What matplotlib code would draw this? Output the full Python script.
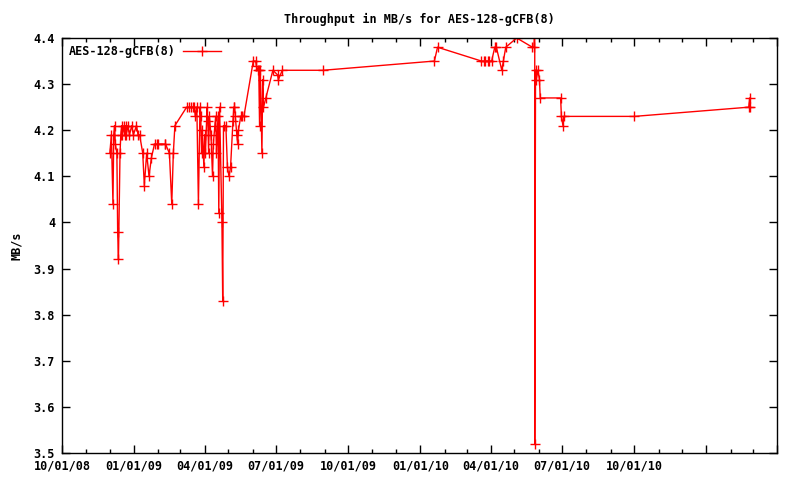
import pandas as pd
import matplotlib
matplotlib.use("Agg")
import matplotlib.pyplot as plt
import matplotlib.dates as mdates

# Data (date, MB/s)
dates = [
    # Dec 2008 - Jan 2009
    "2008-12-01", "2008-12-03", "2008-12-05", "2008-12-06", "2008-12-07", "2008-12-08",
    "2008-12-10", "2008-12-11", "2008-12-12", "2008-12-14", "2008-12-15", "2008-12-16",
    "2008-12-17", "2008-12-19", "2008-12-20", "2008-12-21", "2008-12-22", "2008-12-24",
    "2008-12-26", "2008-12-29", "2008-12-31", "2009-01-04", "2009-01-06", "2009-01-08",
    "2009-01-12", "2009-01-14", "2009-01-17", "2009-01-20", "2009-01-23", "2009-01-27",
    "2009-01-30", "2009-02-01", "2009-02-09", "2009-02-10", "2009-02-15", "2009-02-18",
    "2009-02-20", "2009-02-22",
    # Mar - May 2009
    "2009-03-09", "2009-03-12", "2009-03-14", "2009-03-17", "2009-03-19", "2009-03-20",
    "2009-03-22", "2009-03-24", "2009-03-26", "2009-03-27", "2009-03-28", "2009-03-29",
    "2009-03-31", "2009-04-01", "2009-04-02", "2009-04-04", "2009-04-05", "2009-04-06",
    "2009-04-07", "2009-04-09", "2009-04-11", "2009-04-12", "2009-04-14", "2009-04-15",
    "2009-04-16", "2009-04-18", "2009-04-19", "2009-04-20", "2009-04-23", "2009-04-24",
    "2009-04-25", "2009-04-28", "2009-04-30", "2009-05-02", "2009-05-04", "2009-05-07",
    "2009-05-08", "2009-05-09", "2009-05-10", "2009-05-12", "2009-05-13", "2009-05-14",
    "2009-05-17", "2009-05-18",
    # May - Aug 2009
    "2009-05-21", "2009-06-02", "2009-06-05", "2009-06-06", "2009-06-08", "2009-06-09",
    "2009-06-10", "2009-06-11", "2009-06-13", "2009-06-14", "2009-06-15", "2009-06-18",
    "2009-06-27", "2009-07-03", "2009-07-04", "2009-07-09", "2009-08-30",
    # 2010 - 2011
    "2010-01-19", "2010-01-23", "2010-03-20", "2010-03-23", "2010-03-25", "2010-03-28",
    "2010-03-30", "2010-04-02", "2010-04-06", "2010-04-08", "2010-04-15", "2010-04-17",
    "2010-04-20", "2010-05-04", "2010-05-24", "2010-05-26", "2010-05-27", "2010-05-27",
    "2010-05-28", "2010-05-29", "2010-05-31", "2010-06-02", "2010-06-03", "2010-06-29",
    "2010-06-30", "2010-07-02", "2010-07-03", "2010-10-01", "2011-02-24", "2011-02-25",
    "2011-02-26",
]
throughput = [
    4.15, 4.19, 4.04, 4.19, 4.21, 4.17,
    4.15, 3.98, 3.92, 4.15, 4.19, 4.21,
    4.19, 4.21, 4.19, 4.21, 4.19, 4.21,
    4.19, 4.21, 4.19, 4.21, 4.19, 4.19,
    4.15, 4.08, 4.15, 4.10, 4.14, 4.17,
    4.17, 4.17, 4.17, 4.17, 4.15, 4.04,
    4.15, 4.21,
    4.25, 4.25, 4.25, 4.25, 4.25, 4.23,
    4.25, 4.04, 4.25, 4.23, 4.15, 4.20,
    4.12, 4.19, 4.15, 4.25, 4.22, 4.15,
    4.23, 4.19, 4.10, 4.17, 4.21, 4.23,
    4.15, 4.23, 4.02, 4.25, 4.00, 3.83,
    4.21, 4.21, 4.12, 4.10, 4.12, 4.22,
    4.25, 4.25, 4.23, 4.19, 4.17, 4.20,
    4.23, 4.23,
    4.23, 4.35, 4.35, 4.34, 4.33, 4.33,
    4.21, 4.33, 4.15, 4.31, 4.25, 4.27,
    4.33, 4.32, 4.31, 4.33, 4.33,
    4.35, 4.38, 4.35, 4.35, 4.35, 4.35,
    4.35, 4.35, 4.38, 4.38, 4.33, 4.35,
    4.38, 4.40, 4.38, 4.38, 4.45, 3.52,
    4.33, 4.31, 4.33, 4.31, 4.27, 4.27,
    4.23, 4.21, 4.23, 4.23, 4.25, 4.27,
    4.25,
]

SERIES = "AES-128-gCFB(8)"
TITLE = "Throughput in MB/s for AES-128-gCFB(8)"
Y_TICKS = [3.5, 3.6, 3.7, 3.8, 3.9, 4.0, 4.1, 4.2, 4.3, 4.4]
Y_TICK_LABELS = ["3.5", "3.6", "3.7", "3.8", "3.9", "4", "4.1", "4.2", "4.3", "4.4"]
X_TICKS = ["2008-10-01", "2009-01-01", "2009-04-01", "2009-07-01", "2009-10-01",
           "2010-01-01", "2010-04-01", "2010-07-01", "2010-10-01", "2011-01-01", "2011-04-01"]
X_TICK_LABELS = ["10/01/08", "01/01/09", "04/01/09", "07/01/09", "10/01/09",
                 "01/01/10", "04/01/10", "07/01/10", "10/01/10", "", ""]

FONT = {"family": "DejaVu Sans Mono", "weight": "bold", "size": 8.5}

x = pd.to_datetime(dates)

fig = plt.figure(figsize=(8, 4.8), dpi=100)
ax = fig.add_axes([62 / 800, 27 / 480, 715 / 800, 415 / 480])

ax.plot(x, throughput, color="#ff0000", lw=1, marker="+", ms=7, mew=1,
        label=SERIES, clip_on=True)

ax.set_xlim(pd.Timestamp("2008-10-01"), pd.Timestamp("2011-04-01"))
ax.set_ylim(3.5, 4.4)

ax.set_xticks(pd.to_datetime(X_TICKS))
ax.set_xticklabels(X_TICK_LABELS, fontdict=FONT)
ax.xaxis.set_minor_locator(mdates.MonthLocator())
ax.set_yticks(Y_TICKS)
ax.set_yticklabels(Y_TICK_LABELS, fontdict=FONT)

ax.tick_params(which="both", direction="in", top=True, right=True, width=1, color="black")
ax.tick_params(which="major", length=6, pad=5)
ax.tick_params(which="minor", length=3)
for s in ax.spines.values():
    s.set_linewidth(1)

ax.set_title(TITLE, fontdict=FONT, pad=11)
ax.set_ylabel("MB/s", fontdict=FONT, labelpad=8)

leg = ax.legend(loc="upper left", frameon=False, markerfirst=False, prop=FONT,
                handlelength=3.2, borderaxespad=0.2, handletextpad=0.6)

fig.savefig("out.png", dpi=100)
